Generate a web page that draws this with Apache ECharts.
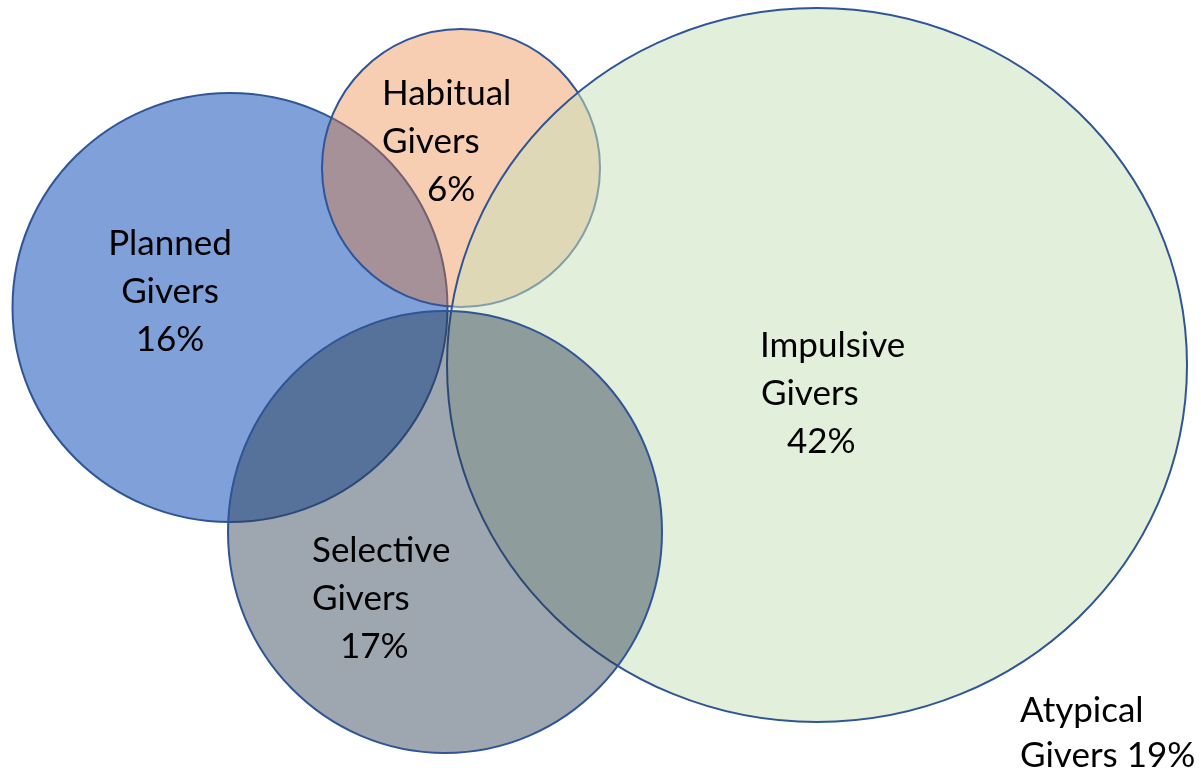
<!DOCTYPE html>
<html>
<head>
<meta charset="utf-8">
<script src="https://cdn.jsdelivr.net/npm/echarts@6/dist/echarts.min.js"></script>
<style>
  html, body { margin: 0; padding: 0; background: #fff; }
  #chart { width: 1201px; height: 773px; }
</style>
</head>
<body>
<div id="chart"></div>
<script>
// groups of givers, drawn bottom to top
const groupNames = ['Planned Givers', 'Habitual Givers', 'Impulsive Givers', 'Selective Givers']
const groupShares = [16, 6, 42, 17]
const atypicalShare = 19

// ellipse geometry in chart units (x to the right, y downwards)
const centerX = [230, 461, 817, 445]
const centerY = [307.5, 168, 365, 532]
const radiusX = [217.5, 139, 370, 217]
const radiusY = [214.5, 139, 357, 221]

const fillColors = ['rgb(127,160,216)', 'rgba(236,119,41,0.36)', 'rgba(200,225,185,0.53)', 'rgba(40,58,80,0.45)']
const strokeColor = '#2F5597'

// label text, one entry per line
const labelLines = [
    ['Planned', 'Givers', groupShares[0] + '%'],
    ['Habitual', 'Givers', groupShares[1] + '%'],
    ['Impulsive', 'Givers', groupShares[2] + '%'],
    ['Selective', 'Givers', groupShares[3] + '%'],
    ['Atypical', 'Givers ' + atypicalShare + '%']
]
// where each label sits: x of every line, first baseline, line gap, alignment
const labelX = [[170, 170, 170], [382, 382, 427], [760, 761, 787], [312, 312, 340], [1020, 1020]]
const labelBaseline = [255, 105, 357, 562, 722]
const labelGap = [48, 48, 48, 48, 45]
const labelAlign = ['center', 'left', 'left', 'left', 'left']

let ellipseData = []
for (let i = 0; i < groupNames.length; i++) {
    ellipseData.push({
        name: groupNames[i],
        value: [centerX[i], centerY[i], radiusX[i], radiusY[i], i]
    })
}

let textData = []
for (let i = 0; i < labelLines.length; i++) {
    for (let j = 0; j < labelLines[i].length; j++) {
        textData.push({
            value: [labelX[i][j], labelBaseline[i] + j * labelGap[i], i, j]
        })
    }
}

const fontSize = 35

function renderEllipse(params, api) {
    let c = api.coord([api.value(0), api.value(1)])
    let s = api.size([api.value(2), api.value(3)])
    let idx = api.value(4)
    return {
        type: 'ellipse',
        shape: { cx: c[0], cy: c[1], rx: s[0], ry: s[1] },
        style: {
            fill: fillColors[idx],
            stroke: strokeColor,
            lineWidth: 2
        }
    }
}

function renderText(params, api) {
    let p = api.coord([api.value(0), api.value(1)])
    let i = api.value(2)
    let j = api.value(3)
    return {
        type: 'text',
        style: {
            text: labelLines[i][j],
            x: p[0],
            y: p[1] - fontSize * 0.33,
            fill: '#000',
            font: fontSize + 'px Lato, sans-serif',
            align: labelAlign[i],
            verticalAlign: 'middle'
        }
    }
}

let dom = document.getElementById('chart')
let myChart = echarts.init(dom, null, { renderer: 'canvas' })
let option = {
    backgroundColor: '#fff',
    animation: false,
    grid: { left: 0, right: 0, top: 0, bottom: 0 },
    xAxis: { type: 'value', min: 0, max: 1201, show: false },
    yAxis: { type: 'value', min: 0, max: 773, inverse: true, show: false },
    series: [
        {
            type: 'custom',
            renderItem: renderEllipse,
            data: ellipseData,
            z: 1
        },
        {
            type: 'custom',
            renderItem: renderText,
            data: textData,
            z: 2
        }
    ]
}
myChart.setOption(option)
window.addEventListener('resize', myChart.resize)
</script>
</body>
</html>
